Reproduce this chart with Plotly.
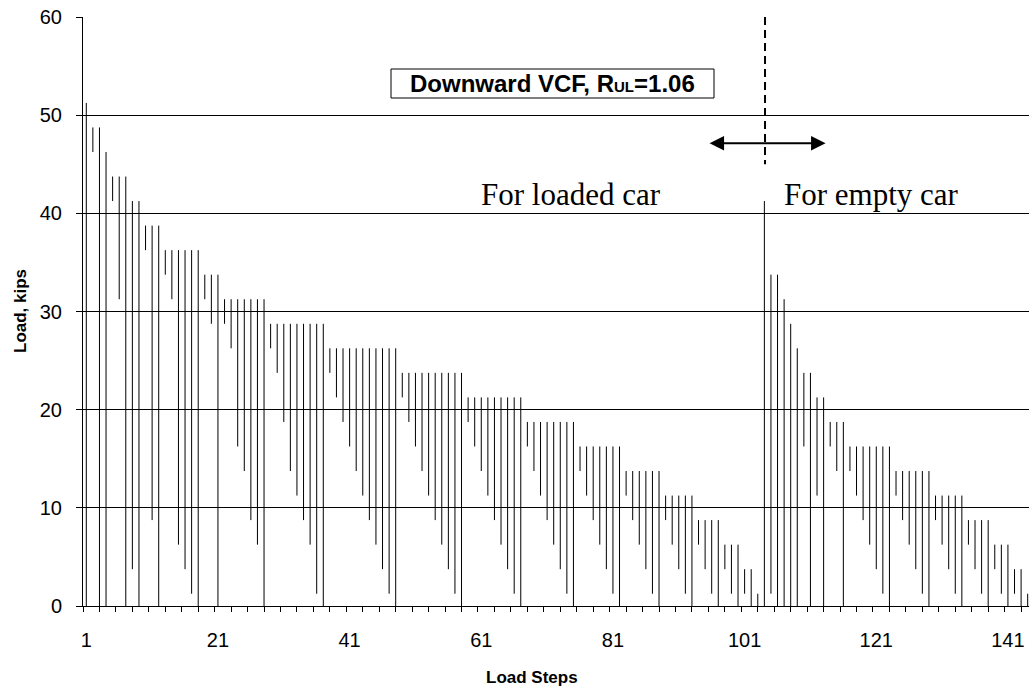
import plotly.graph_objects as go

# ---------------- data ----------------
steps = list(range(1, 145))

high = [
    51.25, 48.75, 48.75, 46.25, 43.75, 43.75, 43.75, 41.25, 41.25, 38.75,
    38.75, 38.75, 36.25, 36.25, 36.25, 36.25, 36.25, 36.25, 33.75, 33.75,
    33.75, 31.25, 31.25, 31.25, 31.25, 31.25, 31.25, 31.25, 28.75, 28.75,
    28.75, 28.75, 28.75, 28.75, 28.75, 28.75, 28.75, 26.25, 26.25, 26.25,
    26.25, 26.25, 26.25, 26.25, 26.25, 26.25, 26.25, 26.25, 23.75, 23.75,
    23.75, 23.75, 23.75, 23.75, 23.75, 23.75, 23.75, 23.75, 21.25, 21.25,
    21.25, 21.25, 21.25, 21.25, 21.25, 21.25, 21.25, 18.75, 18.75, 18.75,
    18.75, 18.75, 18.75, 18.75, 18.75, 16.25, 16.25, 16.25, 16.25, 16.25,
    16.25, 16.25, 13.75, 13.75, 13.75, 13.75, 13.75, 13.75, 11.25, 11.25,
    11.25, 11.25, 11.25, 8.75, 8.75, 8.75, 8.75, 6.25, 6.25, 6.25,
    3.75, 3.75, 1.25, 41.25, 33.75, 33.75, 31.25, 28.75, 26.25, 23.75,
    23.75, 21.25, 21.25, 18.75, 18.75, 18.75, 16.25, 16.25, 16.25, 16.25,
    16.25, 16.25, 16.25, 13.75, 13.75, 13.75, 13.75, 13.75, 13.75, 11.25,
    11.25, 11.25, 11.25, 11.25, 8.75, 8.75, 8.75, 8.75, 6.25, 6.25,
    6.25, 3.75, 3.75, 1.25,
]

low = [
    0, 46.25, 0, 0, 41.25, 31.25, 0, 3.75, 0, 36.25,
    8.75, 0, 33.75, 31.25, 6.25, 3.75, 1.25, 0, 31.25, 28.75,
    0, 28.75, 26.25, 16.25, 13.75, 8.75, 6.25, 0, 26.25, 23.75,
    18.75, 13.75, 11.25, 8.75, 6.25, 1.25, 0, 23.75, 21.25, 18.75,
    16.25, 13.75, 11.25, 8.75, 6.25, 3.75, 1.25, 0, 21.25, 18.75,
    16.25, 13.75, 11.25, 8.75, 6.25, 3.75, 1.25, 0, 18.75, 16.25,
    13.75, 11.25, 8.75, 6.25, 3.75, 1.25, 0, 16.25, 13.75, 11.25,
    8.75, 6.25, 3.75, 1.25, 0, 13.75, 11.25, 8.75, 6.25, 3.75,
    1.25, 0, 11.25, 8.75, 6.25, 3.75, 1.25, 0, 8.75, 6.25,
    3.75, 1.25, 0, 6.25, 3.75, 1.25, 0, 3.75, 1.25, 0,
    1.25, 0, 0, 0, 1.25, 0, 0, 0, 0, 16.25,
    0, 11.25, 0, 16.25, 13.75, 0, 13.75, 11.25, 8.75, 6.25,
    3.75, 1.25, 0, 11.25, 8.75, 6.25, 3.75, 1.25, 0, 8.75,
    6.25, 3.75, 1.25, 0, 6.25, 3.75, 1.25, 0, 3.75, 1.25,
    0, 1.25, 0, 0,
]

x_tick_vals = [1, 21, 41, 61, 81, 101, 121, 141]
x_tick_text = ["1", "21", "41", "61", "81", "101", "121", "141"]
y_tick_vals = [0, 10, 20, 30, 40, 50, 60]

# ---------------- figure ----------------
xs, ys = [], []
for s, h, l in zip(steps, high, low):
    xs += [s, s, None]
    ys += [h, l, None]

fig = go.Figure()
fig.add_trace(go.Scatter(x=xs, y=ys, mode="lines",
                         line=dict(color="black", width=1),
                         hoverinfo="skip", showlegend=False))

SANS = "Liberation Sans, Arial, sans-serif"
SERIF = "Liberation Serif, Times New Roman, serif"

fig.update_layout(
    width=1029, height=694,
    margin=dict(l=83, r=0, t=17, b=88),
    paper_bgcolor="white", plot_bgcolor="white",
    font=dict(family=SANS, color="black"),
    xaxis=dict(range=[0.5, 144.2], showgrid=False, zeroline=False,
               showline=True, linecolor="black", linewidth=1,
               tickmode="array", tickvals=x_tick_vals, ticktext=x_tick_text,
               ticks="", tickfont=dict(size=20, family=SANS),
               ticklabelstandoff=16,
               minor=dict(tick0=0.5, dtick=2.5, ticks="outside", ticklen=5,
                          tickcolor="black", tickwidth=1, showgrid=False)),
    yaxis=dict(range=[0, 60], tickvals=y_tick_vals, showgrid=True,
               gridcolor="black", gridwidth=1, zeroline=False,
               showline=True, linecolor="black", linewidth=1,
               ticks="outside", ticklen=6, tickcolor="black",
               tickfont=dict(size=20, family=SANS), ticklabelstandoff=10),
)

def px(x):
    return (x - 83) / 946

def py(y):
    return (606 - y) / 589

# text box
fig.add_shape(type="rect", xref="paper", yref="paper",
              x0=px(391), x1=px(714), y0=py(98), y1=py(69),
              line=dict(color="black", width=1), fillcolor="white", layer="above")
fig.add_annotation(xref="paper", yref="paper", x=px(552.5), y=py(84),
                   text="<b>Downward VCF, R<span style='font-size:15px'>UL</span>=1.06</b>",
                   showarrow=False, font=dict(family=SANS, size=24, color="black"),
                   xanchor="center", yanchor="middle")

# dashed separator
fig.add_shape(type="line", xref="x", yref="y", x0=104.1, x1=104.1, y0=60, y1=45,
              line=dict(color="black", width=2, dash="8px,5px"))

# double-headed arrow
fig.add_annotation(xref="x", yref="y", axref="x", ayref="y",
                   x=113.3, y=47.15, ax=95.45, ay=47.15, text="",
                   showarrow=True, arrowhead=2, arrowside="end+start",
                   arrowsize=1.45, arrowwidth=2, arrowcolor="black",
                   standoff=0, startstandoff=0)

fig.add_annotation(xref="paper", yref="paper", x=px(571), y=py(195),
                   text="For loaded car", showarrow=False,
                   xanchor="center", yanchor="middle",
                   font=dict(family=SERIF, size=31, color="black"))
fig.add_annotation(xref="paper", yref="paper", x=px(871.7), y=py(195),
                   text="For empty car", showarrow=False,
                   xanchor="center", yanchor="middle",
                   font=dict(family=SERIF, size=31, color="black"))

# axis titles
fig.add_annotation(xref="paper", yref="paper", x=px(20), y=py(311),
                   text="<b>Load, kips</b>", showarrow=False, textangle=-90,
                   xanchor="center", yanchor="middle",
                   font=dict(family=SANS, size=17, color="black"))
fig.add_annotation(xref="paper", yref="paper", x=px(532), y=py(677),
                   text="<b>Load Steps</b>", showarrow=False,
                   xanchor="center", yanchor="middle",
                   font=dict(family=SANS, size=17, color="black"))

fig.write_html("out.html")
